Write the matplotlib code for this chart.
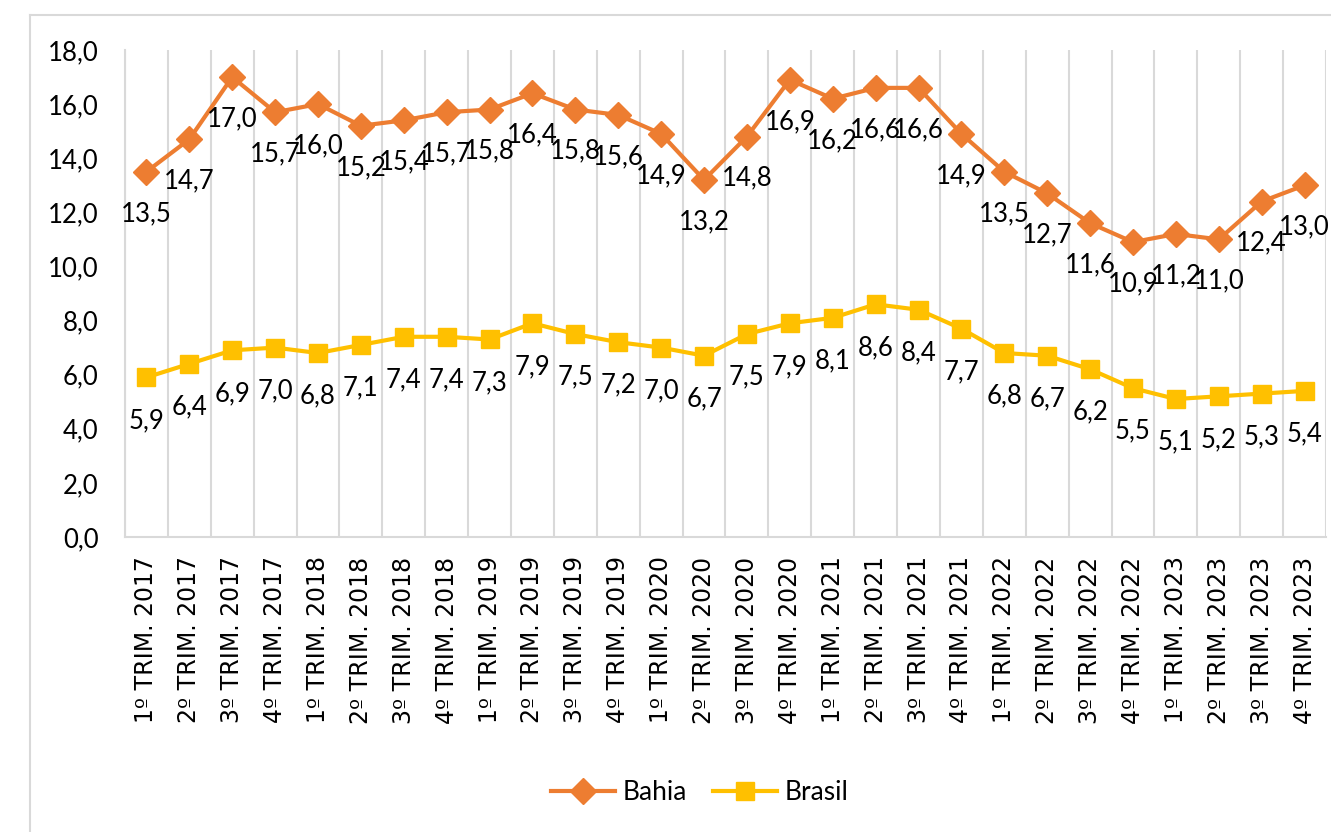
import matplotlib
matplotlib.use("Agg")
import matplotlib.pyplot as plt
from matplotlib.lines import Line2D

categories = [f"{q}º TRIM. {y}" for y in range(2017, 2024) for q in range(1, 5)]
bahia = [13.5, 14.7, 17.0, 15.7, 16.0, 15.2, 15.4, 15.7, 15.8, 16.4, 15.8, 15.6, 14.9, 13.2,
         14.8, 16.9, 16.2, 16.6, 16.6, 14.9, 13.5, 12.7, 11.6, 10.9, 11.2, 11.0, 12.4, 13.0]
brasil = [5.9, 6.4, 6.9, 7.0, 6.8, 7.1, 7.4, 7.4, 7.3, 7.9, 7.5, 7.2, 7.0, 6.7,
          7.5, 7.9, 8.1, 8.6, 8.4, 7.7, 6.8, 6.7, 6.2, 5.5, 5.1, 5.2, 5.3, 5.4]
yticks = [0, 2, 4, 6, 8, 10, 12, 14, 16, 18]

ORANGE = "#ED7D31"
YELLOW = "#FFC000"
GRID = "#D9D9D9"
FONT = ["Lato", "DejaVu Sans"]

plt.rcParams['font.family'] = FONT

fig = plt.figure(figsize=(13.31, 8.32), dpi=100)
ax = fig.add_axes([125/1331, 1 - 537/832, (1326 - 125)/1331, (537 - 50)/832])

x = list(range(len(categories)))
ax.plot(x, bahia, color=ORANGE, lw=3, marker="D", ms=13, mec=ORANGE, mfc=ORANGE,
        clip_on=False, zorder=3, label="Bahia")
ax.plot(x, brasil, color=YELLOW, lw=3, marker="s", ms=13, mec=YELLOW, mfc=YELLOW,
        clip_on=False, zorder=3, label="Brasil")

for xi, v in zip(x, bahia):
    ax.annotate(f"{v:.1f}".replace(".", ","), (xi, v), xytext=(0, -30), textcoords="offset points",
                ha="center", va="center", fontsize=18.5, color="black", zorder=4, annotation_clip=False)
for xi, v in zip(x, brasil):
    ax.annotate(f"{v:.1f}".replace(".", ","), (xi, v), xytext=(0, -31), textcoords="offset points",
                ha="center", va="center", fontsize=18.5, color="black", zorder=4, annotation_clip=False)

ax.set_xlim(-0.5, len(categories) - 0.5)
ax.set_ylim(0, 18)
ax.set_yticks(yticks)
ax.set_yticklabels([f"{t:.1f}".replace(".", ",") for t in yticks], fontsize=18.5)
ax.set_xticks(x)
ax.set_xticklabels(categories, rotation=90, fontsize=17, family=["DejaVu Sans"])
ax.set_xticks([i + 0.5 for i in range(-1, len(categories))], minor=True)
ax.grid(True, which="minor", axis="x", color=GRID, lw=1.5)
ax.grid(False, which="major")
ax.tick_params(axis="both", which="both", length=0)
ax.tick_params(axis="y", pad=19)
ax.tick_params(axis="x", pad=14)
for s in ["top", "right"]:
    ax.spines[s].set_visible(False)
ax.spines["left"].set_color(GRID)
ax.spines["left"].set_linewidth(1.5)
ax.spines["bottom"].set_color(GRID)
ax.spines["bottom"].set_linewidth(1.5)

handles = [Line2D([], [], color=ORANGE, lw=3, marker="D", ms=13),
           Line2D([], [], color=YELLOW, lw=3, marker="s", ms=13)]
fig.legend(handles, ["Bahia", "Brasil"], loc="center", bbox_to_anchor=(700/1331, 1 - 793/832),
           ncol=2, frameon=False, fontsize=19, handlelength=2.4, handletextpad=0.3,
           columnspacing=1.0)

# outer chart border (cropped on right/bottom)
fig.add_artist(Line2D([30/1331, 30/1331], [0, 1 - 15/832], color=GRID, lw=1.5, transform=fig.transFigure))
fig.add_artist(Line2D([30/1331, 1], [1 - 15/832, 1 - 15/832], color=GRID, lw=1.5, transform=fig.transFigure))

fig.savefig("out.png", dpi=100)
